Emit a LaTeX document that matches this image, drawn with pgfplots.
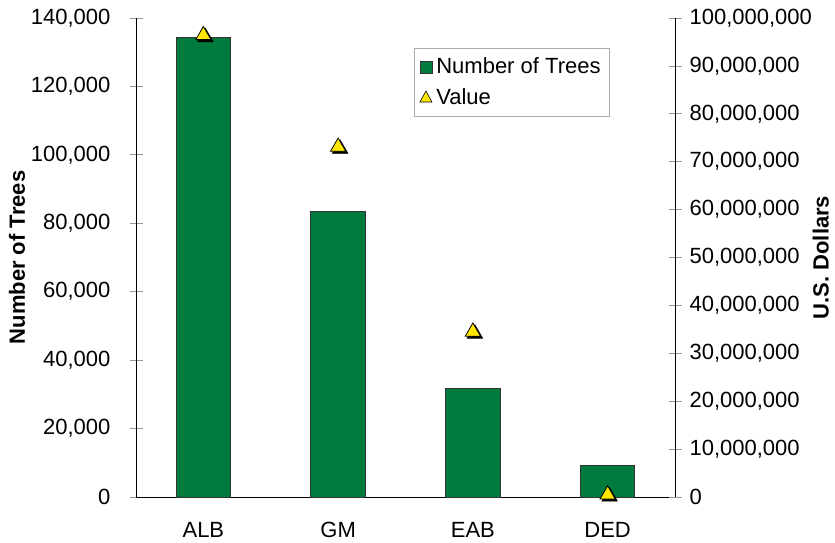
\documentclass[border=0pt]{standalone}
\usepackage{pgfplots}
\pgfplotsset{compat=1.18}
\usepackage{fontspec}
\setmainfont{Liberation Sans}
\definecolor{bargreen}{RGB}{0,122,61}
\definecolor{tri}{RGB}{255,232,0}
\definecolor{tickgrey}{RGB}{150,150,150}
\begin{document}
\begin{tikzpicture}
\pgfplotsset{
  every axis/.append style={
    scale only axis,
    width=269.5pt, height=239.5pt,
    xmin=-0.5, xmax=3.5,
    font=\fontsize{11}{13}\selectfont,
    /pgf/number format/assume math mode=true,
    /pgf/number format/.cd, fixed, 1000 sep={,},
  },
}
\begin{axis}[
  name=ax,
  axis x line*=bottom, axis y line*=left,
  ymin=0, ymax=140000,
  ytick={0,20000,...,140000},
  scaled y ticks=false,
  xtick={0,1,2,3},
  xticklabels={ALB,GM,EAB,DED},
  major x tick style={draw=none},
  extra x ticks={-0.5,0.5,1.5,2.5,3.5},
  extra x tick labels={},
  extra x tick style={tick style={tickgrey, thin}, tick align=center, major tick length=7pt},
  xticklabel style={yshift=-2.5pt},
  ytick style={tickgrey, thin},
  tick align=center, major tick length=6.5pt,
  yticklabel style={xshift=-6pt},
  ylabel={\bfseries Number of Trees},
  ylabel style={yshift=-4pt},
  axis line style={black, thin},
  ybar, bar width=27.3pt,
]
\addplot[fill=bargreen, draw=black!80, line width=0.5pt] coordinates {
  (0,134400) (1,83400) (2,31700) (3,9300)
};
\end{axis}
\begin{axis}[
  axis y line*=right, axis x line=none,
  ymin=0, ymax=100000000,
  ytick={0,10000000,...,100000000},
  scaled y ticks=false,
  ytick style={tickgrey, thin},
  tick align=center, major tick length=6.5pt,
  yticklabel style={xshift=0.5pt},
  ylabel={\bfseries U.S. Dollars},
  ylabel style={yshift=6.5pt},
  axis line style={black, thin},
  legend style={at={(0.516,0.937)}, anchor=north west, draw=tickgrey!80, thin,
    font=\fontsize{11}{13}\selectfont, inner sep=2.5pt, row sep=2pt,
    legend cell align=left},
]
\addlegendimage{legend image code/.code={\draw[fill=bargreen, draw=black!80, thin] (0.1cm,-3pt) rectangle (0.1cm+6pt,3pt);}}
\addlegendentry{Number of Trees}
\addplot[only marks, mark=triangle*, mark size=4.4pt, black,
  mark options={xshift=1pt, yshift=-1pt}, forget plot] coordinates {
  (0,96400000) (1,73100000) (2,34500000) (3,500000)
};
\addplot[only marks, mark=triangle*, mark size=4.4pt,
  mark options={fill=tri, draw=black, line width=0.4pt},
  legend image code/.code={\draw[fill=tri, draw=black, line width=0.3pt] (0.1cm,-2pt) -- (0.1cm+6pt,-2pt) -- (0.1cm+3pt,3.5pt) -- cycle;}] coordinates {
  (0,96400000) (1,73100000) (2,34500000) (3,500000)
};
\addlegendentry{Value}
\end{axis}
\pgfresetboundingbox
\path[use as bounding box] ([xshift=-68pt,yshift=-22.5pt]ax.south west) rectangle ([xshift=80pt,yshift=9pt]ax.north east);
\end{tikzpicture}
\end{document}
